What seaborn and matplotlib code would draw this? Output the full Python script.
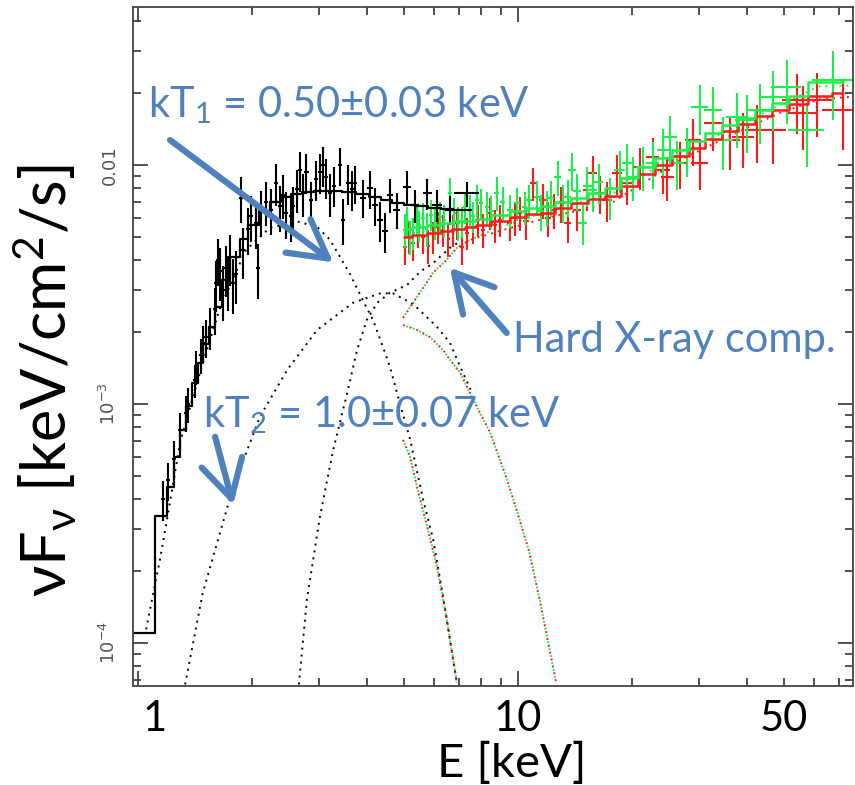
import matplotlib
matplotlib.use('Agg')
import matplotlib.pyplot as plt
import matplotlib.transforms as mtransforms
from matplotlib.ticker import FixedLocator, LogLocator, NullFormatter, FuncFormatter
import seaborn as sns
import numpy as np

# ---- black spectrum (soft band), E [keV], nuFnu [keV/cm2/s] ----
blk_E = [1.16, 1.20, 1.24, 1.29, 1.34, 1.35, 1.41, 1.42, 1.46, 1.48,
         1.51, 1.55, 1.59, 1.60, 1.62, 1.64, 1.67, 1.70, 1.72, 1.75,
         1.78, 1.81, 1.87, 1.89, 1.95, 1.98, 2.04, 2.07, 2.11, 2.17,
         2.24, 2.31, 2.36, 2.41, 2.45, 2.53, 2.56, 2.62, 2.67, 2.72,
         2.77, 2.85, 2.94, 3.01, 3.07, 3.12, 3.20, 3.28, 3.40, 3.46,
         3.57, 3.66, 3.72, 3.91, 4.08, 4.20, 4.33, 4.46, 4.60, 4.79,
         5.10, 5.35, 5.77, 6.12, 6.62, 7.34]
blk_F = [0.40e-3, 0.48e-3, 0.59e-3, 0.78e-3, 0.92e-3, 1.00e-3, 1.26e-3, 1.43e-3, 1.60e-3, 1.80e-3,
         1.90e-3, 2.10e-3, 2.50e-3, 3.20e-3, 4.00e-3, 3.60e-3, 3.00e-3, 3.70e-3, 3.30e-3, 4.10e-3,
         3.20e-3, 3.50e-3, 7.30e-3, 4.40e-3, 5.40e-3, 6.10e-3, 5.70e-3, 3.70e-3, 6.40e-3, 7.00e-3,
         6.50e-3, 8.40e-3, 6.70e-3, 7.50e-3, 6.30e-3, 6.10e-3, 6.70e-3, 7.90e-3, 9.50e-3, 7.60e-3,
         9.30e-3, 7.10e-3, 8.70e-3, 9.30e-3, 10.0e-3, 8.90e-3, 7.60e-3, 8.20e-3, 10.0e-3, 5.90e-3,
         8.40e-3, 7.90e-3, 8.40e-3, 7.30e-3, 8.00e-3, 6.80e-3, 5.90e-3, 5.30e-3, 7.50e-3, 6.50e-3,
         8.10e-3, 6.80e-3, 7.60e-3, 6.80e-3, 6.50e-3, 7.60e-3]
blk_rerr = [0.19, 0.18, 0.18, 0.17, 0.17, 0.17, 0.16, 0.16, 0.17, 0.18,
            0.18, 0.20, 0.22, 0.24, 0.22, 0.25, 0.26, 0.24, 0.26, 0.24,
            0.26, 0.25, 0.22, 0.24, 0.22, 0.22, 0.22, 0.26, 0.22, 0.21,
            0.22, 0.20, 0.22, 0.21, 0.22, 0.22, 0.21, 0.20, 0.19, 0.20,
            0.19, 0.20, 0.19, 0.19, 0.19, 0.19, 0.20, 0.19, 0.18, 0.22,
            0.19, 0.19, 0.18, 0.18, 0.18, 0.18, 0.19, 0.19, 0.16, 0.17,
            0.16, 0.16, 0.15, 0.15, 0.14, 0.12]
blk_xrel = [0.012, 0.012, 0.012, 0.012, 0.012, 0.012, 0.012, 0.012, 0.012, 0.012,
            0.012, 0.012, 0.012, 0.012, 0.012, 0.012, 0.012, 0.012, 0.012, 0.012,
            0.012, 0.012, 0.012, 0.012, 0.012, 0.012, 0.012, 0.012, 0.012, 0.012,
            0.012, 0.012, 0.012, 0.012, 0.012, 0.012, 0.012, 0.012, 0.012, 0.012,
            0.014, 0.014, 0.014, 0.014, 0.014, 0.014, 0.014, 0.014, 0.014, 0.014,
            0.015, 0.015, 0.015, 0.016, 0.016, 0.016, 0.018, 0.018, 0.018, 0.020,
            0.022, 0.024, 0.026, 0.028, 0.030, 0.075]

# ---- red spectrum ----
red_E = [5.04, 5.15, 5.29, 5.45, 5.62, 5.80, 5.98, 6.15, 6.35, 6.55,
         6.74, 6.90, 7.12, 7.35, 7.61, 7.85, 8.09, 8.44, 8.70, 8.97,
         9.52, 9.80, 10.1, 10.5, 10.95, 11.6, 12.0, 12.4, 13.0, 13.5,
         14.3, 15.2, 15.7, 16.4, 17.1, 18.2, 19.4, 20.9, 22.6, 24.1,
         24.7, 26.7, 28.9, 30.1, 32.6, 36.1, 39.1, 42.6, 46.9, 54.2,
         56.2, 61.2, 71.6]
red_F = [4.54e-3, 5.0e-3, 4.72e-3, 5.3e-3, 5.0e-3, 4.6e-3, 5.0e-3, 5.5e-3, 5.35e-3, 4.9e-3,
         5.35e-3, 5.7e-3, 4.54e-3, 5.2e-3, 5.5e-3, 5.9e-3, 5.35e-3, 6.3e-3, 5.6e-3, 5.89e-3,
         5.72e-3, 6.0e-3, 6.3e-3, 5.8e-3, 8.4e-3, 7.14e-3, 6.0e-3, 6.48e-3, 6.9e-3, 5.72e-3,
         6.48e-3, 7.86e-3, 9.26e-3, 7.6e-3, 7.14e-3, 9.26e-3, 8.4e-3, 9.8e-3, 10.8e-3, 9.53e-3,
         8.9e-3, 10.2e-3, 12.7e-3, 10.2e-3, 15.0e-3, 12.7e-3, 13.1e-3, 14.0e-3, 14.0e-3, 18.7e-3,
         16.5e-3, 18.7e-3, 17.0e-3]
red_rerr = [0.16, 0.15, 0.16, 0.15, 0.15, 0.16, 0.15, 0.15, 0.15, 0.16,
            0.15, 0.15, 0.16, 0.15, 0.15, 0.15, 0.16, 0.15, 0.16, 0.15,
            0.16, 0.16, 0.16, 0.16, 0.16, 0.17, 0.17, 0.17, 0.17, 0.18,
            0.18, 0.18, 0.18, 0.18, 0.19, 0.19, 0.19, 0.20, 0.20, 0.21,
            0.21, 0.22, 0.22, 0.23, 0.24, 0.25, 0.26, 0.27, 0.28, 0.28,
            0.30, 0.30, 0.32]
red_xrel = [0.010, 0.010, 0.010, 0.010, 0.010, 0.010, 0.010, 0.010, 0.010, 0.010,
            0.011, 0.011, 0.011, 0.012, 0.012, 0.012, 0.013, 0.013, 0.014, 0.014,
            0.015, 0.016, 0.016, 0.017, 0.018, 0.019, 0.020, 0.021, 0.022, 0.023,
            0.025, 0.026, 0.027, 0.028, 0.030, 0.032, 0.034, 0.036, 0.038, 0.040,
            0.040, 0.045, 0.050, 0.050, 0.055, 0.060, 0.065, 0.070, 0.080, 0.085,
            0.090, 0.100, 0.120]

# ---- green spectrum ----
grn_E = [5.04, 5.10, 5.20, 5.30, 5.42, 5.50, 5.62, 5.75, 5.90, 6.05,
         6.23, 6.40, 6.62, 6.80, 6.95, 7.10, 7.25, 7.45, 7.60, 7.80,
         8.00, 8.28, 8.50, 8.80, 9.10, 9.52, 9.94, 10.4, 10.7, 11.2,
         11.5, 11.9, 12.2, 12.7, 13.1, 13.5, 13.9, 14.3, 14.8, 15.2,
         15.7, 16.3, 17.4, 18.5, 19.4, 20.1, 21.3, 22.6, 24.1, 25.1,
         26.2, 27.8, 30.1, 32.6, 34.6, 37.7, 40.0, 43.3, 46.9, 51.0,
         57.6, 67.4]
grn_F = [5.35e-3, 5.8e-3, 5.0e-3, 5.2e-3, 5.89e-3, 5.6e-3, 6.0e-3, 5.4e-3, 6.2e-3, 5.7e-3,
         6.06e-3, 5.9e-3, 7.64e-3, 6.3e-3, 5.72e-3, 5.8e-3, 6.67e-3, 6.5e-3, 6.1e-3, 7.14e-3,
         6.9e-3, 6.67e-3, 6.4e-3, 7.64e-3, 7.0e-3, 6.48e-3, 6.93e-3, 6.67e-3, 7.1e-3, 7.35e-3,
         6.4e-3, 6.67e-3, 7.3e-3, 8.9e-3, 7.0e-3, 7.35e-3, 9.53e-3, 7.8e-3, 5.72e-3, 8.2e-3,
         7.86e-3, 8.5e-3, 7.35e-3, 9.53e-3, 10.2e-3, 8.9e-3, 9.8e-3, 10.2e-3, 11.55e-3, 13.1e-3,
         10.2e-3, 11.55e-3, 17.5e-3, 17.0e-3, 12.7e-3, 15.9e-3, 15.4e-3, 17.0e-3, 19.25e-3, 21.2e-3,
         14.0e-3, 22.7e-3]
grn_rerr = [0.16, 0.15, 0.16, 0.15, 0.15, 0.15, 0.15, 0.16, 0.15, 0.15,
            0.15, 0.15, 0.15, 0.15, 0.16, 0.15, 0.15, 0.15, 0.15, 0.15,
            0.15, 0.16, 0.16, 0.16, 0.16, 0.16, 0.16, 0.16, 0.16, 0.17,
            0.17, 0.17, 0.17, 0.17, 0.18, 0.18, 0.18, 0.18, 0.19, 0.19,
            0.19, 0.19, 0.20, 0.20, 0.20, 0.21, 0.21, 0.22, 0.22, 0.22,
            0.23, 0.23, 0.24, 0.25, 0.25, 0.26, 0.27, 0.28, 0.28, 0.30,
            0.30, 0.32]
grn_xrel = [0.010, 0.010, 0.010, 0.010, 0.010, 0.010, 0.010, 0.010, 0.010, 0.010,
            0.011, 0.011, 0.011, 0.011, 0.012, 0.012, 0.012, 0.012, 0.013, 0.013,
            0.013, 0.014, 0.014, 0.015, 0.015, 0.016, 0.016, 0.017, 0.018, 0.018,
            0.019, 0.020, 0.020, 0.021, 0.022, 0.023, 0.024, 0.025, 0.026, 0.027,
            0.028, 0.029, 0.030, 0.032, 0.034, 0.036, 0.038, 0.040, 0.040, 0.042,
            0.045, 0.050, 0.050, 0.055, 0.060, 0.065, 0.070, 0.075, 0.080, 0.090,
            0.110, 0.120]

# ---- folded models (stepped) ----
blk_mod_E = [0.97, 1.05, 1.17, 1.22, 1.27, 1.31, 1.36, 1.41, 1.46, 1.51,
             1.56, 1.62, 1.70, 1.80, 1.90, 2.00, 2.15, 2.30, 2.45, 2.60,
             2.80, 3.00, 3.30, 3.60, 3.90, 4.20, 4.50, 4.80, 5.20, 5.60,
             6.00, 6.50, 7.00, 7.50]
blk_mod_F = [0.11e-3, 0.11e-3, 0.34e-3, 0.45e-3, 0.60e-3, 0.78e-3, 0.98e-3, 1.22e-3, 1.48e-3, 1.78e-3,
             2.10e-3, 2.55e-3, 3.30e-3, 4.10e-3, 4.90e-3, 5.60e-3, 6.40e-3, 7.00e-3, 7.35e-3, 7.55e-3,
             7.70e-3, 7.75e-3, 7.75e-3, 7.70e-3, 7.55e-3, 7.35e-3, 7.15e-3, 6.95e-3, 6.80e-3, 6.70e-3,
             6.60e-3, 6.55e-3, 6.50e-3, 6.45e-3]
hx_mod_E = [5.0, 5.5, 6.0, 6.5, 7.0, 7.5, 8.0, 9.0, 10.0, 11.0,
            12.0, 13.0, 14.5, 16.0, 17.8, 19.5, 21.8, 24.0, 26.7, 29.5,
            32.6, 36.0, 40.0, 44.0, 48.9, 54.2, 61.8, 71.8]
grn_mod_F = [5.4e-3, 5.5e-3, 5.6e-3, 5.7e-3, 5.8e-3, 5.85e-3, 5.95e-3, 6.2e-3, 6.4e-3, 6.6e-3,
             6.75e-3, 7.0e-3, 7.3e-3, 7.6e-3, 8.0e-3, 8.8e-3, 9.8e-3, 10.7e-3, 11.6e-3, 12.6e-3,
             13.6e-3, 14.7e-3, 15.7e-3, 17.0e-3, 18.2e-3, 19.5e-3, 22.2e-3, 22.2e-3]
red_mod_F = [5.0e-3, 5.1e-3, 5.2e-3, 5.3e-3, 5.4e-3, 5.5e-3, 5.6e-3, 5.85e-3, 6.05e-3, 6.25e-3,
             6.3e-3, 6.6e-3, 6.9e-3, 7.2e-3, 7.4e-3, 8.2e-3, 9.2e-3, 10.0e-3, 10.9e-3, 11.8e-3,
             12.8e-3, 13.8e-3, 14.8e-3, 16.0e-3, 17.0e-3, 18.0e-3, 19.5e-3, 20.0e-3]

# ---- model components (dotted) ----
kt1_E = [1.05, 1.14, 1.18, 1.29, 1.46, 1.64, 1.92, 2.22, 2.62, 2.96, 3.20,
         3.61, 3.91, 4.15, 4.41, 4.60, 4.89, 5.20, 5.62, 5.98, 6.35, 6.90]
kt1_F = [1.14e-4, 2.2e-4, 3.0e-4, 6.9e-4, 1.38e-3, 2.5e-3, 4.4e-3, 5.45e-3, 5.8e-3, 5.5e-3, 4.86e-3,
         3.5e-3, 2.7e-3, 2.25e-3, 1.73e-3, 1.43e-3, 1.0e-3, 7.1e-4, 4.0e-4, 2.7e-4, 1.56e-4, 6.8e-5]
kt2_E = [1.33, 1.48, 1.78, 2.09, 2.47, 2.96, 3.68, 4.33, 4.69, 5.29, 6.12, 6.62, 7.04, 7.5]
kt2_F = [6.7e-5, 1.62e-4, 4.5e-4, 8.8e-4, 1.39e-3, 2.04e-3, 2.65e-3, 2.9e-3, 2.9e-3, 2.62e-3,
         2.1e-3, 1.8e-3, 1.43e-3, 1.15e-3]
hard_E = [2.65, 2.78, 3.01, 3.26, 3.55, 3.77, 4.00, 4.26, 4.60, 5.10, 5.52, 5.98, 6.62, 7.34]
hard_F = [6.7e-5, 1.51e-4, 3.37e-4, 6.4e-4, 1.11e-3, 1.68e-3, 2.25e-3, 2.65e-3, 2.92e-3, 3.14e-3,
          3.57e-3, 3.89e-3, 4.5e-3, 5.0e-3]
hx_kt1_E = [4.98, 5.20, 5.42, 5.77, 6.12, 6.48, 6.90]
hx_kt1_F = [7.07e-4, 6.0e-4, 4.5e-4, 3.05e-4, 2.08e-4, 1.28e-4, 6.8e-5]
hx_kt2_E = [4.98, 5.42, 5.87, 6.35, 6.62, 7.04, 7.8, 8.44, 9.36, 10.1, 10.7, 11.4, 12.1, 12.6]
hx_kt2_F = [2.14e-3, 2.04e-3, 1.9e-3, 1.68e-3, 1.53e-3, 1.35e-3, 9.7e-4, 7.6e-4, 4.8e-4, 3.27e-4,
            2.4e-4, 1.51e-4, 9.4e-5, 6.8e-5]
hx_hard_E = [4.98, 5.42, 5.98, 6.48, 6.90, 7.48, 8.97, 11.9, 17.8, 26.7, 40.0, 48.9, 61.8, 76.0]
grn_hard_F = [2.29e-3, 2.8e-3, 3.54e-3, 4.0e-3, 4.5e-3, 4.86e-3, 5.5e-3, 6.4e-3, 7.6e-3, 11.2e-3,
              15.2e-3, 17.8e-3, 21.3e-3, 21.5e-3]
red_hard_F = [2.29e-3, 2.8e-3, 3.54e-3, 4.0e-3, 4.5e-3, 4.86e-3, 5.3e-3, 6.0e-3, 7.0e-3, 10.5e-3,
              14.3e-3, 16.5e-3, 18.8e-3, 19.3e-3]

BLUE = '#4f81bd'
RED = '#ff1a1a'
GREEN = '#1cf04a'

sns.set_theme(style='ticks')
plt.rcParams['font.family'] = ['Lato', 'DejaVu Sans']
plt.rcParams['mathtext.fontset'] = 'custom'
plt.rcParams['mathtext.rm'] = 'Lato'
plt.rcParams['mathtext.it'] = 'Lato:italic'
plt.rcParams['mathtext.default'] = 'regular'

fig = plt.figure(figsize=(8.55, 7.85), dpi=100)
ax = fig.add_axes([0.1556, 0.1261, 0.8421, 0.8650])
ax.set_xscale('log')
ax.set_yscale('log')


def comp(x, y, color, offset=0.0):
    sns.lineplot(x=x, y=y, ax=ax, color=color, lw=1.4, estimator=None, sort=False,
                 linestyle=(offset, (1, 2.6)))


# dotted components
comp(kt1_E, kt1_F, 'black')
comp(kt2_E, kt2_F, 'black')
comp(hard_E, hard_F, 'black')
comp(hx_kt1_E, hx_kt1_F, RED)
comp(hx_kt1_E, hx_kt1_F, GREEN, 1.8)
comp(hx_kt2_E, hx_kt2_F, RED)
comp(hx_kt2_E, hx_kt2_F, GREEN, 1.8)
comp(hx_hard_E, red_hard_F, RED)
comp(hx_hard_E, grn_hard_F, GREEN, 1.8)


def spectrum(E, F, rerr, xrel, color):
    E = np.asarray(E)
    F = np.asarray(F)
    ax.errorbar(E, F, yerr=F * np.asarray(rerr), xerr=E * np.asarray(xrel),
                fmt='none', ecolor=color, elinewidth=1.5, capsize=0)


spectrum(red_E, red_F, red_rerr, red_xrel, RED)
spectrum(grn_E, grn_F, grn_rerr, grn_xrel, GREEN)
spectrum(blk_E, blk_F, blk_rerr, blk_xrel, 'black')

# stepped folded models
sns.lineplot(x=blk_mod_E, y=blk_mod_F, ax=ax, color='black', lw=1.6,
             drawstyle='steps-mid', estimator=None, sort=False)
sns.lineplot(x=hx_mod_E, y=red_mod_F, ax=ax, color=RED, lw=1.8,
             drawstyle='steps-mid', estimator=None, sort=False)
sns.lineplot(x=hx_mod_E, y=grn_mod_F, ax=ax, color=GREEN, lw=1.8,
             drawstyle='steps-mid', estimator=None, sort=False)

ax.set_xlim(0.97, 76.1)
ax.set_ylim(6.6e-5, 0.0458)

# ticks
ax.xaxis.set_major_locator(FixedLocator([1, 10]))
ax.xaxis.set_minor_locator(LogLocator(base=10, subs=np.arange(2, 10)))
ax.xaxis.set_major_formatter(FuncFormatter(lambda v, p: '%g' % v))
ax.xaxis.set_minor_formatter(FuncFormatter(lambda v, p: '50' if abs(v - 50) < 1e-6 else ''))
ax.yaxis.set_major_locator(FixedLocator([1e-4, 1e-3, 1e-2]))
ax.yaxis.set_minor_locator(LogLocator(base=10, subs=np.arange(2, 10)))
ax.yaxis.set_minor_formatter(NullFormatter())
ax.set_yticklabels(['10$^{-4}$', '10$^{-3}$', '0.01'])

ax.tick_params(which='both', direction='in', top=True, right=True, color='#333333', width=1.2)
ax.tick_params(which='major', length=11)
ax.tick_params(which='minor', length=6)
ax.tick_params(axis='x', which='both', labelsize=30, pad=10, labelcolor='black')
ax.tick_params(axis='y', which='major', labelsize=13, pad=10, labelcolor='#555555')
for t in ax.get_yticklabels():
    t.set_rotation(90)
    t.set_va('center')
    t.set_family(['DejaVu Sans'])
for sp in ax.spines.values():
    sp.set_color('#444444')
    sp.set_linewidth(1.3)

# label "1" sits a little right of its tick in the original
tick1 = ax.xaxis.get_major_ticks()[0]
tick1.label1.set_transform(tick1.label1.get_transform() +
                           mtransforms.ScaledTranslation(17 / 100, 0, fig.dpi_scale_trans))

ax.set_xlabel('E [keV]', fontsize=34, color='black')
ax.xaxis.set_label_coords(0.526, -0.082)
ax.set_ylabel('νF$_{ν}$ [keV/cm$^{2}$/s]', fontsize=44, color='black')
ax.yaxis.set_label_coords(-0.075, 0.45)

# annotations
fig.text(0.173, 0.850, 'kT$_{1}$ = 0.50±0.03 keV', fontsize=30, color=BLUE, va='baseline')
fig.text(0.237, 0.456, 'kT$_{2}$ = 1.0±0.07 keV', fontsize=30, color=BLUE, va='baseline')
fig.text(0.600, 0.552, 'Hard X-ray comp.', fontsize=30, color=BLUE, va='baseline')

arrow = dict(arrowstyle='->,head_length=0.9,head_width=0.5', lw=4.5, color=BLUE,
             shrinkA=0, shrinkB=0, mutation_scale=30)
ax.annotate('', xy=(0.278, 0.624), xytext=(0.0514, 0.804), xycoords='axes fraction', arrowprops=arrow)
ax.annotate('', xy=(0.139, 0.267), xytext=(0.114, 0.367), xycoords='axes fraction', arrowprops=arrow)
ax.annotate('', xy=(0.440, 0.616), xytext=(0.519, 0.520), xycoords='axes fraction', arrowprops=arrow)

fig.savefig('out.png', dpi=100)
